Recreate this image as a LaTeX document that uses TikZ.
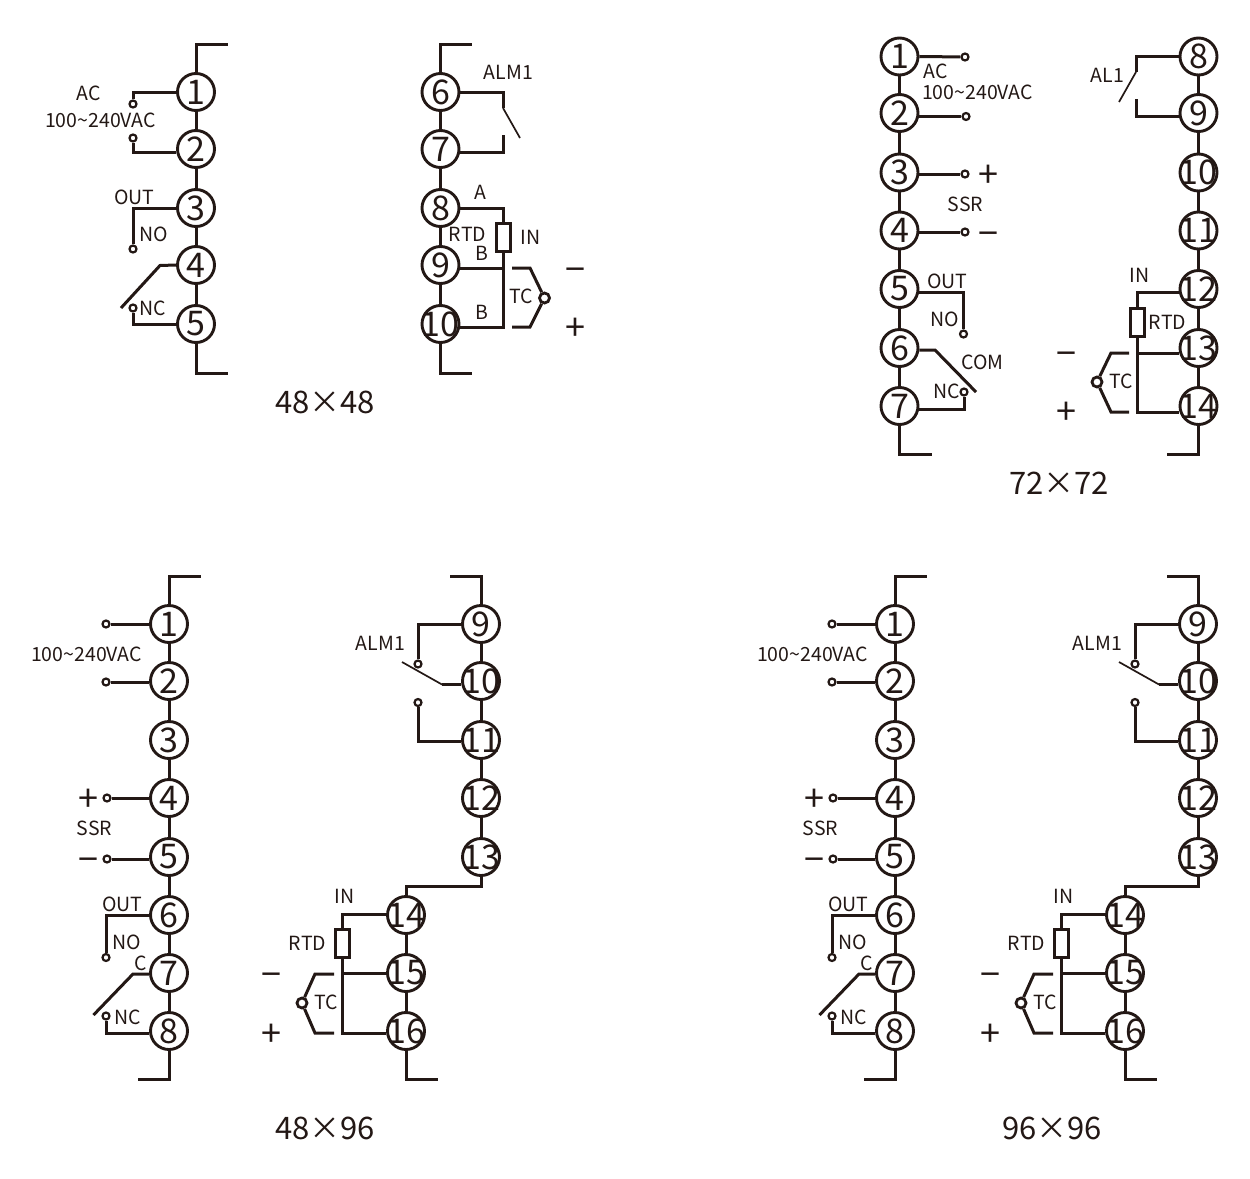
\documentclass[tikz,border=0pt]{standalone}
\usepackage{fontspec}
\setmainfont{Noto Sans CJK SC}
\definecolor{ink}{HTML}{231815}
\tikzset{
  wire/.style={draw=ink,line width=3pt},
  thinwire/.style={draw=ink,line width=1.7pt},
  pinnode/.style={circle,draw=ink,line width=2.9pt,minimum size=37pt,inner sep=-8pt,text=ink,font=\fontsize{34}{36}\selectfont},
  term/.style={circle,draw=ink,line width=2.2pt,fill=white,minimum size=7pt,inner sep=0pt},
  tcterm/.style={circle,draw=ink,line width=2.8pt,fill=white,minimum size=10pt,inner sep=0pt},
  rtdbox/.style={rectangle,draw=ink,line width=2.8pt,minimum width=14pt,minimum height=28pt,inner sep=0pt},
  lbl/.style={text=ink,inner sep=0pt,xshift=0.5pt,yshift=-0.7pt,font=\fontsize{19.5}{21}\selectfont},
  plussign/.style={text=ink,inner sep=0pt,yshift=-2.7pt,font=\fontsize{36}{38}\selectfont},
  minussign/.style={text=ink,inner sep=0pt,yshift=-7pt,font=\fontsize{36}{38}\selectfont},
  ttl/.style={text=ink,inner sep=0pt,yshift=-0.5pt,font=\fontsize{31}{33}\selectfont},
}
\begin{document}
\begin{tikzpicture}[x=1pt,y=-1pt]
\useasboundingbox (0,0) rectangle (1250,1178);
% ---------- 48x48 ----------
\foreach \n/\y in {1/92,2/149,3/208,4/265,5/324}{\node[pinnode] (a\n) at (196,\y) {\n};}
\foreach \n/\y in {6/92,7/149,8/208,9/265,10/324}{\node[pinnode] (a\n) at (440.5,\y) {\n};}
\foreach \u/\v in {1/2,2/3,3/4,4/5,6/7,7/8,8/9,9/10}{\draw[wire] (a\u) -- (a\v);}
\coordinate (atl) at (228,44); \coordinate (abl) at (228,373);
\coordinate (atr) at (472,44); \coordinate (abr) at (472,373);
\draw[wire] (a1.north) |- (atl);
\draw[wire] (a5.south) |- (abl);
\draw[wire] (a6.north) |- (atr);
\draw[wire] (a10.south) |- (abr);
\node[term] (at1) at (133,104) {};
\node[term] (at2) at (133,138) {};
\node[term] (at3) at (133,249) {};
\node[term] (at4) at (133,308) {};
\draw[wire] (at1) |- (a1.west);
\draw[wire] (at2) |- ([yshift=-3pt]a2.west);
\draw[wire] (at3) |- (a3.west);
\draw[wire] (at4) |- (a5.west);
\coordinate (asw) at (160,265.5); \coordinate (asw2) at (121,308);
\draw[wire] (a4.west) -- (asw) -- (asw2);
\coordinate (ac6) at (503,108); \coordinate (ac7) at (503,135); \coordinate (acb) at (520,138);
\draw[wire] (a6.east) -| (ac6);
\draw[wire] ([yshift=-3pt]a7.east) -| (ac7);
\draw[thinwire] (ac6) -- (acb);
\node[rtdbox] (ar) at (503.5,237.5) {};
\draw[wire] (a8.east) -| (ar.north);
\draw[wire] (ar.south) |- ([yshift=-3pt]a10.east);
\draw[wire] ([yshift=-3pt]a9.east) -| (ar.south);
\node[tcterm] (atc) at (544.5,298) {};
\coordinate (atu) at (512,268); \coordinate (atub) at (530,268);
\coordinate (atd) at (512,327); \coordinate (atdb) at (530,327);
\draw[wire] (atu) -- (atub) -- (atc);
\draw[wire] (atd) -- (atdb) -- (atc);
\node[lbl] (al1) at (88,93) {AC};
\node[lbl] (al2) at (100,120) {100\textasciitilde240VAC};
\node[lbl] (al3) at (134,197) {OUT};
\node[lbl] (al4) at (153,234) {NO};
\node[lbl] (al5) at (152,308) {NC};
\node[lbl] (al6) at (508,72) {ALM1};
\node[lbl] (al7) at (480,192) {A};
\node[lbl] (al8) at (467,234) {RTD};
\node[lbl] (al9) at (481,253) {B};
\node[lbl] (al10) at (530,237) {IN};
\node[lbl] (al11) at (521,296) {TC};
\node[lbl] (al12) at (481,312) {B};
\node[minussign] (as1) at (575,268) {−};
\node[plussign] (as2) at (575,327) {+};
\node[ttl] (att1) at (325,402) {48×48};
% ---------- 72x72 ----------
\foreach \n/\y in {1/56.5,2/113,3/172.5,4/230.5,5/289,6/348,7/406}{\node[pinnode] (b\n) at (899.5,\y) {\n};}
\foreach \n/\y in {8/56.5,9/113,10/172.5,11/230.5,12/289,13/348,14/406}{\node[pinnode] (b\n) at (1198.5,\y) {\n};}
\foreach \u/\v in {1/2,2/3,3/4,4/5,5/6,6/7,8/9,9/10,10/11,11/12,12/13,13/14}{\draw[wire] (b\u) -- (b\v);}
\coordinate (bbl) at (932,454); \coordinate (bbr) at (1167,454);
\draw[wire] (b7.south) |- (bbl);
\draw[wire] (b14.south) |- (bbr);
\node[term] (bt1) at (965,57) {};
\node[term] (bt2) at (966,116.5) {};
\node[term] (bt3) at (965,174) {};
\node[term] (bt4) at (965,232) {};
\node[term] (bt5) at (963.5,334) {};
\node[term] (bt6) at (964,392) {};
\draw[wire] (b1.east) -- (bt1);
\draw[wire] ([yshift=-3.5pt]b2.east) -- (bt2);
\draw[wire] ([yshift=-1.5pt]b3.east) -- (bt3);
\draw[wire] ([yshift=-1.5pt]b4.east) -- (bt4);
\draw[wire] ([yshift=-3.7pt]b5.east) -| (bt5);
\draw[wire] ([yshift=-3pt]b7.east) -| (bt6);
\coordinate (bsw) at (935,350); \coordinate (bsw2) at (976,392);
\draw[wire] ([yshift=-2pt]b6.east) -- (bsw) -- (bsw2);
\coordinate (bc8) at (1136,72); \coordinate (bc9) at (1136,99); \coordinate (bcb) at (1119,102);
\draw[wire] (b8.west) -| (bc8);
\draw[wire] ([yshift=-3.5pt]b9.west) -| (bc9);
\draw[thinwire] (bc8) -- (bcb);
\node[rtdbox] (br) at (1137.5,322.5) {};
\draw[wire] ([yshift=-3.7pt]b12.west) -| (br.north);
\draw[wire] (br.south) |- ([yshift=-6pt]b14.west);
\draw[wire] ([yshift=-5pt]b13.west) -| (br.south);
\node[tcterm] (btc) at (1097,382) {};
\coordinate (btu) at (1129,353); \coordinate (btub) at (1111,353);
\coordinate (btd) at (1129,412); \coordinate (btdb) at (1111,412);
\draw[wire] (btu) -- (btub) -- (btc);
\draw[wire] (btd) -- (btdb) -- (btc);
\node[lbl] (bl1) at (935,71) {AC};
\node[lbl] (bl2) at (977,92) {100\textasciitilde240VAC};
\node[lbl] (bl3) at (965,204) {SSR};
\node[lbl] (bl4) at (947,281) {OUT};
\node[lbl] (bl5) at (944,319) {NO};
\node[lbl] (bl6) at (982,362) {COM};
\node[lbl] (bl7) at (946,391) {NC};
\node[lbl] (bl8) at (1107,75) {AL1};
\node[lbl] (bl9) at (1139,275) {IN};
\node[lbl] (bl10) at (1167,322) {RTD};
\node[lbl] (bl11) at (1121,381) {TC};
\node[plussign] (bs1) at (988,174) {+};
\node[minussign] (bs2) at (988,232) {−};
\node[minussign] (bs3) at (1066,352) {−};
\node[plussign] (bs4) at (1066,411) {+};
\node[ttl] (btt) at (1059,483) {72×72};
% ---------- 48x96 and 96x96 : left terminal block ----------
\foreach \p/\d in {c/0,d/726}{
  \foreach \n/\y in {1/624,2/681,3/740,4/798,5/857,6/915,7/973,8/1031}{\node[pinnode] (\p\n) at (169+\d,\y) {\n};}
  \foreach \u/\v in {1/2,2/3,3/4,4/5,5/6,6/7,7/8}{\draw[wire] (\p\u) -- (\p\v);}
  \coordinate (\p tl) at (201+\d,576); \coordinate (\p bl) at (137.5+\d,1079);
  \draw[wire] (\p1.north) |- (\p tl);
  \draw[wire] (\p8.south) |- (\p bl);
  \node[term] (\p t1) at (106+\d,624) {};
  \node[term] (\p t2) at (106+\d,682) {};
  \node[term] (\p t4) at (107+\d,798) {};
  \node[term] (\p t5) at (107+\d,859) {};
  \node[term] (\p t6) at (106+\d,957.5) {};
  \node[term] (\p t8) at (106+\d,1016) {};
  \draw[wire] (\p1.west) -- (\p t1);
  \draw[wire] ([yshift=-1pt]\p2.west) -- (\p t2);
  \draw[wire] (\p4.west) -- (\p t4);
  \draw[wire] ([yshift=-2pt]\p5.west) -- (\p t5);
  \draw[wire] (\p6.west) -| (\p t6);
  \draw[wire] ([yshift=-2pt]\p8.west) -| (\p t8);
  \coordinate (\p sw) at (133+\d,974); \coordinate (\p sw2) at (93.5+\d,1015);
  \draw[wire] ([yshift=-1pt]\p7.west) -- (\p sw) -- (\p sw2);
  \node[lbl] (\p l1) at (86+\d,654) {100\textasciitilde240VAC};
  \node[lbl] (\p l2) at (94+\d,828) {SSR};
  \node[lbl] (\p l3) at (122+\d,904) {OUT};
  \node[lbl] (\p l4) at (126+\d,942) {NO};
  \node[lbl] (\p l5) at (140+\d,963) {C};
  \node[lbl] (\p l6) at (127+\d,1017) {NC};
  \node[plussign] (\p s1) at (88+\d,798) {+};
  \node[minussign] (\p s2) at (88+\d,858) {−};
}
% ---------- right terminal block, upper ----------
\foreach \p/\d/\q in {c/0/481,d/717/1198}{
  \foreach \n/\y in {9/624,10/681,11/740,12/798,13/857}{\node[pinnode] (\p\n) at (\q,\y) {\n};}
  \foreach \u/\v in {9/10,10/11,11/12,12/13}{\draw[wire] (\p\u) -- (\p\v);}
  \coordinate (\p tr) at (449.5+\d,576);
  \draw[wire] (\p9.north) |- (\p tr);
  \node[term] (\p t9) at (418+\d,664) {};
  \node[term] (\p t11) at (418+\d,702.5) {};
  \draw[wire] (\p9.west) -| (\p t9);
  \draw[wire] ([yshift=-1pt]\p11.west) -| (\p t11);
  \coordinate (\p swa) at (442+\d,684.5); \coordinate (\p swb) at (402+\d,662);
  \draw[wire] ([yshift=-3.5pt]\p10.west) -- (\p swa);
  \draw[thinwire] (\p swa) -- (\p swb);
  \node[lbl] (\p l7) at (380+\d,643) {ALM1};
}
% ---------- right terminal block, lower ----------
\foreach \p/\d in {c/0,d/719}{
  \foreach \n/\y in {14/915,15/973,16/1031}{\node[pinnode] (\p\n) at (406+\d,\y) {\n};}
  \foreach \u/\v in {14/15,15/16}{\draw[wire] (\p\u) -- (\p\v);}
  \coordinate (\p br) at (438+\d,1079);
  \draw[wire] (\p16.south) |- (\p br);
  \coordinate (\p j) at (\p13.south |- 0,886.5);
  \draw[wire] (\p13.south) -- (\p j) -| (\p14.north);
  \node[rtdbox] (\p r) at (342.5+\d,943.5) {};
  \draw[wire] ([yshift=1pt]\p14.west) -| (\p r.north);
  \draw[wire] (\p r.south) |- ([yshift=-2pt]\p16.west);
  \draw[wire] ([yshift=-0.7pt]\p15.west) -| (\p r.south);
  \node[tcterm] (\p tc) at (302+\d,1003) {};
  \coordinate (\p tu) at (334+\d,974); \coordinate (\p tub) at (315+\d,974);
  \coordinate (\p td) at (334+\d,1033); \coordinate (\p tdb) at (315+\d,1033);
  \draw[wire] (\p tu) -- (\p tub) -- (\p tc);
  \draw[wire] (\p td) -- (\p tdb) -- (\p tc);
  \node[lbl] (\p l8) at (344+\d,896) {IN};
  \node[lbl] (\p l9) at (307+\d,943) {RTD};
  \node[lbl] (\p l10) at (325.5+\d,1002) {TC};
  \node[minussign] (\p s3) at (271+\d,973) {−};
  \node[plussign] (\p s4) at (271+\d,1033) {+};
}
\node[ttl] (ctt) at (325,1128) {48×96};
\node[ttl] (dtt) at (1052,1128) {96×96};
\end{tikzpicture}
\end{document}
